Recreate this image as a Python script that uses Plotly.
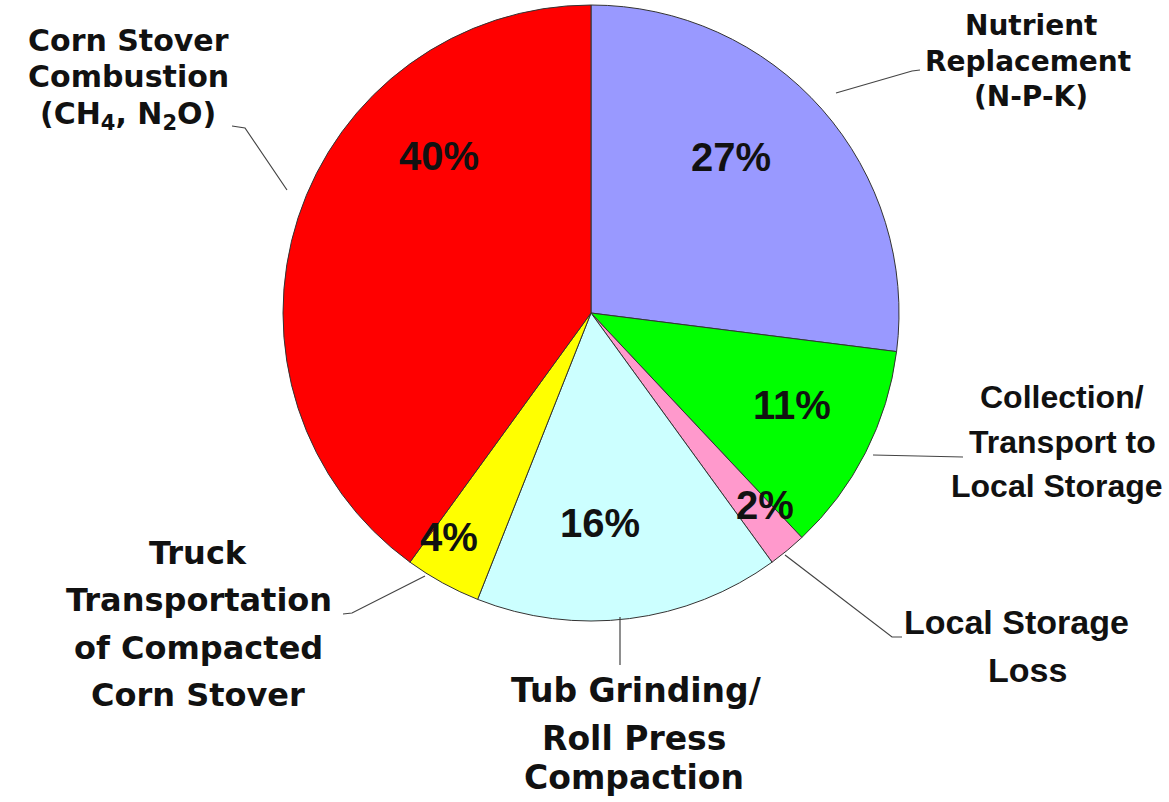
import plotly.graph_objects as go

# Shares of the total, clockwise from 12 o'clock
categories = [
    "Nutrient Replacement (N-P-K)",
    "Collection/Transport to Local Storage",
    "Local Storage Loss",
    "Tub Grinding/Roll Press Compaction",
    "Truck Transportation of Compacted Corn Stover",
    "Corn Stover Combustion (CH4, N2O)",
]
shares = [27, 11, 2, 16, 4, 40]
slice_colors = ["#9999FF", "#00FF00", "#FF99CC", "#CCFFFF", "#FFFF00", "#FF0000"]

# Outside label lines, one list per slice
label_lines = [
    ["Nutrient", "Replacement", "(N-P-K)"],
    ["Collection/", "Transport to", "Local Storage"],
    ["Local Storage", "Loss"],
    ["Tub Grinding/", "Roll Press", "Compaction"],
    ["Truck", "Transportation", "of Compacted", "Corn Stover"],
    ["Corn Stover", "Combustion", "(CH<sub>4</sub>, N<sub>2</sub>O)"],
]

W, H = 1169, 802
CX, CY, R = 591, 313, 308  # pie centre and radius in pixels


def px(x):
    return x / W


def py(y):
    return 1 - y / H


# Pixel placement of the percentage text inside each slice
pct_pos = [(731, 157), (792, 405), (765, 505), (600, 523), (449, 537), (439, 156)]

# Per-line centres (x, y) of each outside label, in pixels
line_pos = [
    [(1031, 26), (1028, 62), (1031, 97)],
    [(1062, 397), (1062, 442), (1057, 486)],
    [(1016, 622), (1027, 670)],
    [(636, 690), (634, 738), (634, 777)],
    [(198, 553), (199, 600), (198, 648), (198, 695)],
    [(128, 40), (128, 77), (128, 115)],
]
label_font = [
    ("DejaVu Sans", 28),
    ("Liberation Sans", 32),
    ("Liberation Sans", 34),
    ("DejaVu Sans", 33),
    ("DejaVu Sans", 32),
    ("DejaVu Sans", 30),
]

# Leader lines from slice edge to label, in pixels
leaders = [
    [(836, 93), (912, 71), (920, 70)],
    [(873, 455), (963, 457)],
    [(785, 555), (892, 637), (902, 637)],
    [(620, 617), (620, 665)],
    [(425, 576), (352, 613), (343, 614)],
    [(287, 190), (245, 128), (232, 126)],
]

fig = go.Figure(
    go.Pie(
        labels=categories,
        values=shares,
        sort=False,
        direction="clockwise",
        rotation=0,
        marker=dict(colors=slice_colors, line=dict(color="#333333", width=1)),
        textinfo="none",
        hoverinfo="label+percent",
        showlegend=False,
        domain=dict(x=[px(CX - R), px(CX + R)], y=[py(CY + R), py(CY - R)]),
    )
)

annotations = []
for v, (x, y) in zip(shares, pct_pos):
    annotations.append(
        dict(
            x=px(x), y=py(y), xref="paper", yref="paper",
            text=f"<b>{v}%</b>", showarrow=False,
            xanchor="center", yanchor="middle",
            font=dict(family="Liberation Sans, Arial, sans-serif", size=40, color="#111111"),
        )
    )
for lines, positions, (fam, size) in zip(label_lines, line_pos, label_font):
    for txt, (x, y) in zip(lines, positions):
        annotations.append(
            dict(
                x=px(x), y=py(y), xref="paper", yref="paper",
                text=f"<b>{txt}</b>", showarrow=False,
                xanchor="center", yanchor="middle", align="center",
                font=dict(family=f"{fam}, Arial, sans-serif", size=size, color="#111111"),
            )
        )

shapes = []
for pts in leaders:
    path = "M " + " L ".join(f"{px(x)},{py(y)}" for x, y in pts)
    shapes.append(
        dict(type="path", path=path, xref="paper", yref="paper",
             line=dict(color="#444444", width=1.2))
    )

fig.update_layout(
    width=W, height=H,
    margin=dict(l=0, r=0, t=0, b=0),
    paper_bgcolor="white",
    plot_bgcolor="white",
    annotations=annotations,
    shapes=shapes,
)

fig.write_html("out.html")
